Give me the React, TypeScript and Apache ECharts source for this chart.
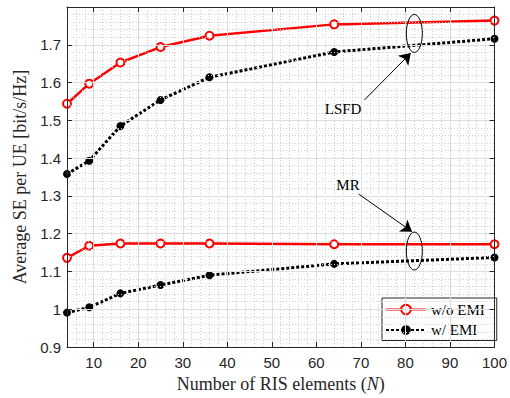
import React, { useEffect, useRef } from "react";
import * as echarts from "echarts";

const nValues = [4, 9, 16, 25, 36, 64, 100];
const lsfdNoEmi = [1.544, 1.597, 1.653, 1.694, 1.724, 1.754, 1.764];
const lsfdEmi = [1.358, 1.393, 1.485, 1.554, 1.614, 1.681, 1.716];
const mrNoEmi = [1.136, 1.168, 1.174, 1.174, 1.174, 1.172, 1.172];
const mrEmi = [0.991, 1.005, 1.042, 1.064, 1.09, 1.12, 1.137];

const xTicks = [10, 20, 30, 40, 50, 60, 70, 80, 90, 100];
const legendNames = ["w/o EMI", "w/ EMI"];

const lsfdEllipse = [82, 1.73];
const mrEllipse = [82, 1.154];
const lsfdText = [66, 1.529];
const mrText = [67.1, 1.329];
const lsfdArrow = [[70.8, 1.554], [81.2, 1.678]];
const mrArrow = [[69.5, 1.305], [81.5, 1.205]];

const AX = "#262626";
const SANS = "'Liberation Sans', Arial, sans-serif";
const SERIF = "'Liberation Serif', 'Times New Roman', serif";

export default function App() {
  const ref = useRef<HTMLDivElement>(null);
  useEffect(() => {
    if (!ref.current) return;
    const chart = echarts.init(ref.current, null, { renderer: "svg" });
    const pair = (ys: number[]) => nValues.map((x, i) => [x, ys[i]]);
    const redSeries = (name: string, ys: number[], extra: any = {}) => ({
      type: "line",
      name,
      data: pair(ys),
      xAxisIndex: 0,
      yAxisIndex: 0,
      symbol: "emptyCircle",
      symbolSize: 8,
      itemStyle: { color: "#ff0000", borderColor: "#ff0000", borderWidth: 2 },
      lineStyle: { color: "#ff0000", width: 2.5 },
      emphasis: { disabled: true },
      z: 3,
      ...extra,
    });
    const blackSeries = (name: string, ys: number[]) => ({
      type: "line",
      name,
      data: pair(ys),
      xAxisIndex: 0,
      yAxisIndex: 0,
      symbol: "circle",
      symbolSize: 8,
      itemStyle: { color: "#000000" },
      lineStyle: { color: "#000000", width: 3, type: [3, 2], cap: "butt" },
      emphasis: { disabled: true },
      z: 4,
    });
    const arrowLine = (a: number[][]) => [{ coord: a[0] }, { coord: a[1] }];
    const option: any = {
      animation: false,
      backgroundColor: "#ffffff",
      grid: { left: 67, right: 10, top: 7, bottom: 51, containLabel: false },
      legend: {
        data: legendNames,
        orient: "vertical",
        left: 382,
        top: 298,
        itemWidth: 40,
        itemHeight: 12,
        itemGap: 5.5,
        padding: [4, 12, 3, 3],
        backgroundColor: "#ffffff",
        borderColor: AX,
        borderWidth: 1,
        borderRadius: 0,
        textStyle: { fontFamily: SERIF, fontSize: 15, color: "#000" },
        selectedMode: false,
      },
      xAxis: [
        {
          type: "value",
          position: "bottom",
          min: 4,
          max: 100,
          interval: 2,
          axisLine: { show: true, lineStyle: { color: AX, width: 1 } },
          axisTick: { show: true, inside: true, length: 5, customValues: xTicks, lineStyle: { color: AX } },
          axisLabel: { show: true, customValues: xTicks, color: AX, fontFamily: SANS, fontSize: 15, margin: 8 },
          splitLine: { show: true, lineStyle: { color: "#dedede", width: 1 } },
          name: "Number of RIS elements ({i|N})",
          nameLocation: "middle",
          nameGap: 27,
          nameTextStyle: {
            fontFamily: SERIF,
            fontSize: 18,
            color: AX,
            rich: { i: { fontFamily: SERIF, fontSize: 18, fontStyle: "italic", color: AX } },
          },
          z: 5,
        },
        {
          type: "value",
          position: "bottom",
          min: 4,
          max: 100,
          interval: 2,
          axisLine: { show: false },
          axisTick: { show: false },
          axisLabel: { show: false },
          splitLine: { show: true, lineStyle: { color: "#cfcfcf", width: 1, type: [1, 2] } },
        },
        {
          type: "value",
          position: "top",
          min: 4,
          max: 100,
          interval: 2,
          axisLine: { show: true, lineStyle: { color: AX, width: 1 } },
          axisTick: { show: true, inside: true, length: 5, customValues: xTicks, lineStyle: { color: AX } },
          axisLabel: { show: false },
          splitLine: { show: false },
          z: 5,
        },
      ],
      yAxis: [
        {
          type: "value",
          position: "left",
          min: 0.9,
          max: 1.8,
          interval: 0.1,
          axisLine: { show: true, lineStyle: { color: AX, width: 1 } },
          axisTick: { show: true, inside: true, length: 5, lineStyle: { color: AX } },
          axisLabel: {
            color: AX,
            fontFamily: SANS,
            fontSize: 15,
            margin: 6,
            formatter: (v: number) => {
              if (v > 1.75) return "";
              if (Math.abs(v - 1) < 1e-6) return "1";
              return v.toFixed(1);
            },
          },
          splitLine: { show: true, lineStyle: { color: "#dedede", width: 1 } },
          minorTick: { show: false, splitNumber: 5 },
          minorSplitLine: { show: true, lineStyle: { color: "#cfcfcf", width: 1, type: [1, 2] } },
          name: "Average SE per UE [bit/s/Hz]",
          nameLocation: "middle",
          nameGap: 37,
          nameTextStyle: { fontFamily: SERIF, fontSize: 18, color: AX },
          z: 5,
        },
        {
          type: "value",
          position: "right",
          min: 0.9,
          max: 1.8,
          interval: 0.1,
          axisLine: { show: true, lineStyle: { color: AX, width: 1 } },
          axisTick: { show: true, inside: true, length: 5, lineStyle: { color: AX } },
          axisLabel: { show: false },
          splitLine: { show: false },
          z: 5,
        },
      ],
      series: [
        redSeries("w/o EMI", lsfdNoEmi, {
          markLine: {
            silent: true,
            symbol: ["none", "arrow"],
            symbolSize: 11,
            label: { show: false },
            lineStyle: { color: "#000", width: 1, type: "solid" },
            emphasis: { disabled: true },
            data: [arrowLine(lsfdArrow), arrowLine(mrArrow)],
          },
        }),
        blackSeries("w/ EMI", lsfdEmi),
        redSeries("w/o EMI", mrNoEmi),
        blackSeries("w/ EMI", mrEmi),
      ],
    };
    chart.setOption(option);

    const px = (p: number[]) => chart.convertToPixel({ xAxisIndex: 0, yAxisIndex: 0 }, p) as number[];
    const e1 = px(lsfdEllipse);
    const e2 = px(mrEllipse);
    const t1 = px(lsfdText);
    const t2 = px(mrText);
    const ellipse = (c: number[]) => ({
      type: "ellipse",
      shape: { cx: c[0], cy: c[1], rx: 8, ry: 19 },
      style: { fill: "none", stroke: "#000", lineWidth: 1 },
      z: 10,
      silent: true,
    });
    const label = (c: number[], text: string) => ({
      type: "text",
      x: c[0],
      y: c[1],
      style: {
        text,
        fontFamily: SERIF,
        fontSize: 15,
        fill: "#000",
        align: "center",
        verticalAlign: "middle",
      },
      z: 10,
      silent: true,
    });
    chart.setOption({
      graphic: [ellipse(e1), ellipse(e2), label(t1, "LSFD"), label(t2, "MR")],
    });

    return () => {
      chart.dispose();
    };
  }, []);
  return (
    <div
      ref={ref}
      style={{ position: "fixed", left: 0, top: 0, width: 510, height: 398, background: "#fff" }}
    />
  );
}
